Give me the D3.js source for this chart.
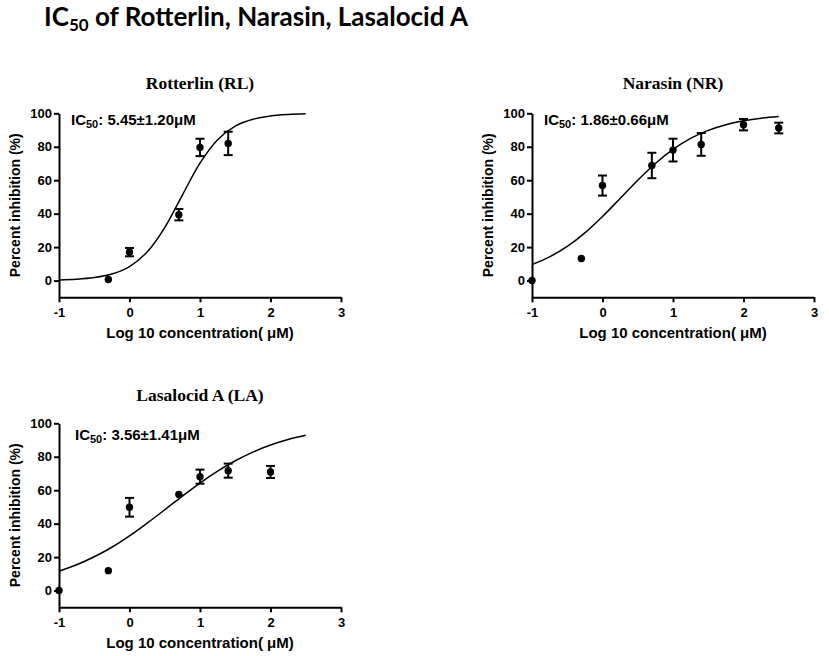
<!DOCTYPE html>
<html><head><meta charset="utf-8">
<script src="https://cdn.jsdelivr.net/npm/d3@7"></script>
<style>body{margin:0;background:#fff}svg{display:block}</style>
</head><body>
<svg id="c" width="829" height="656"></svg>
<script>
// ---- data ----
const xTicks = [-1, 0, 1, 2, 3];
const yTicks = [0, 20, 40, 60, 80, 100];

const rlX = [-0.3, 0, 0.7, 1, 1.4];
const rlY = [0.6, 17, 39.4, 79.6, 82];
const rlErr = [0, 2.5, 3.4, 5.2, 7];

const nrX = [-1, -0.3, 0, 0.7, 1, 1.4, 2, 2.5];
const nrY = [0, 13.2, 56.8, 68.8, 78, 81.4, 93.2, 91.2];
const nrErr = [0, 0, 6, 7.6, 6.8, 6.8, 3.4, 3.2];

const laX = [-1, -0.3, 0, 0.7, 1, 1.4, 2];
const laY = [0, 11.9, 49.8, 57.4, 68.1, 71.7, 70.9];
const laErr = [0, 0, 5.6, 0, 4.2, 4.2, 3.6];

// fitted curves
const curveX = [-1, -0.75, -0.5, -0.25, 0, 0.25, 0.5, 0.75, 1, 1.25, 1.5, 1.75, 2, 2.25, 2.5];
const rlCurve = [0.4, 0.8, 1.8, 3.9, 8.4, 17.1, 31.7, 51.1, 70.2, 84.2, 92.3, 96.4, 98.4, 99.3, 99.7];
const nrCurve = [9.6, 14.2, 20.4, 28.5, 38.3, 49.1, 60.0, 70.0, 78.4, 85.0, 89.8, 93.2, 95.5, 97.1, 98.1];
const laCurve = [11.6, 15.4, 20.2, 25.9, 32.7, 40.3, 48.3, 56.5, 64.3, 71.4, 77.6, 82.8, 87.0, 90.3, 92.8];

const titles = ["Rotterlin (RL)", "Narasin (NR)", "Lasalocid A (LA)"];
const ic50 = ["5.45±1.20μM", "1.86±0.66μM", "3.56±1.41μM"];

// ---- drawing ----
const svg = d3.select("#c");
const AR = "'Liberation Sans', Arial, sans-serif";

const t = svg.append("text").attr("x", 44).attr("y", 26)
  .attr("font-family", "Lato, 'Open Sans', sans-serif").attr("font-weight", "bold")
  .attr("font-size", 26).attr("fill", "#000");
t.append("tspan").text("IC");
t.append("tspan").text("50").attr("font-size", 17).attr("dy", 5);
t.append("tspan").text(" of Rotterlin, Narasin, Lasalocid A").attr("dy", -5);

const panels = [
  {left: 59, top: 113.3, bottom: 297.3, xs: rlX, ys: rlY, es: rlErr, cy: rlCurve, title: titles[0], ic: ic50[0], icx: 71, icy: 125, ty: 89},
  {left: 532, top: 113.3, bottom: 297.3, xs: nrX, ys: nrY, es: nrErr, cy: nrCurve, title: titles[1], ic: ic50[1], icx: 544, icy: 125, ty: 89},
  {left: 59, top: 423.3, bottom: 607.3, xs: laX, ys: laY, es: laErr, cy: laCurve, title: titles[2], ic: ic50[2], icx: 75, icy: 440, ty: 401}
];

panels.forEach(p => {
  const x = d3.scaleLinear().domain([-1, 3]).range([p.left, p.left + 282]);
  const y = d3.scaleLinear().domain([-10, 100]).range([p.bottom, p.top]);
  const g = svg.append("g");

  const xa = g.append("g").attr("transform", `translate(0,${p.bottom})`)
    .call(d3.axisBottom(x).tickValues(xTicks).tickFormat(d => String(d)).tickSize(5).tickSizeOuter(0).tickPadding(5));
  const ya = g.append("g").attr("transform", `translate(${p.left},0)`)
    .call(d3.axisLeft(y).tickValues(yTicks).tickFormat(d => String(d)).tickSize(5).tickSizeOuter(0).tickPadding(2));
  [xa, ya].forEach(a => {
    a.select(".domain").attr("stroke", "#000").attr("stroke-width", 2);
    a.selectAll(".tick line").attr("stroke", "#000").attr("stroke-width", 2);
    a.selectAll(".tick text").attr("font-family", AR).attr("font-weight", "bold")
      .attr("font-size", 13).attr("fill", "#000");
  });

  // curve
  const line = d3.line().x((d, i) => x(curveX[i])).y(d => y(d)).curve(d3.curveCatmullRom);
  g.append("path").attr("d", line(p.cy)).attr("fill", "none").attr("stroke", "#000").attr("stroke-width", 1.5);

  // error bars
  p.xs.forEach((xv, i) => {
    const e = p.es[i];
    if (e > 0) {
      const cx = x(xv), y1 = y(p.ys[i] + e), y2 = y(p.ys[i] - e);
      g.append("line").attr("x1", cx).attr("x2", cx).attr("y1", y1).attr("y2", y2).attr("stroke", "#000").attr("stroke-width", 2);
      [y1, y2].forEach(yy => g.append("line").attr("x1", cx - 4.5).attr("x2", cx + 4.5).attr("y1", yy).attr("y2", yy).attr("stroke", "#000").attr("stroke-width", 2));
    }
  });
  g.selectAll("circle.pt").data(p.xs).enter().append("circle")
    .attr("cx", d => x(d)).attr("cy", (d, i) => y(p.ys[i])).attr("r", 3.7).attr("fill", "#000");

  // panel title
  g.append("text").attr("x", p.left + 141).attr("y", p.ty).attr("text-anchor", "middle")
    .attr("font-family", "'Liberation Serif', 'Times New Roman', serif").attr("font-weight", "bold")
    .attr("font-size", 17.5).text(p.title);

  // IC50 annotation
  const a = g.append("text").attr("x", p.icx).attr("y", p.icy)
    .attr("font-family", AR).attr("font-weight", "bold").attr("font-size", 15);
  a.append("tspan").text("IC");
  a.append("tspan").text("50").attr("font-size", 11).attr("dy", 3);
  a.append("tspan").text(": " + p.ic).attr("dy", -3);

  // axis labels
  g.append("text").attr("transform", `translate(${p.left - 44},${p.top + 92}) rotate(-90)`)
    .attr("text-anchor", "middle").attr("font-family", AR).attr("font-weight", "bold")
    .attr("font-size", 14).attr("dy", "0.35em").text("Percent inhibition (%)");
  g.append("text").attr("x", p.left + 141).attr("y", p.bottom + 41).attr("text-anchor", "middle")
    .attr("font-family", AR).attr("font-weight", "bold").attr("font-size", 15)
    .text("Log 10 concentration( μM)");
});
</script>
</body></html>
